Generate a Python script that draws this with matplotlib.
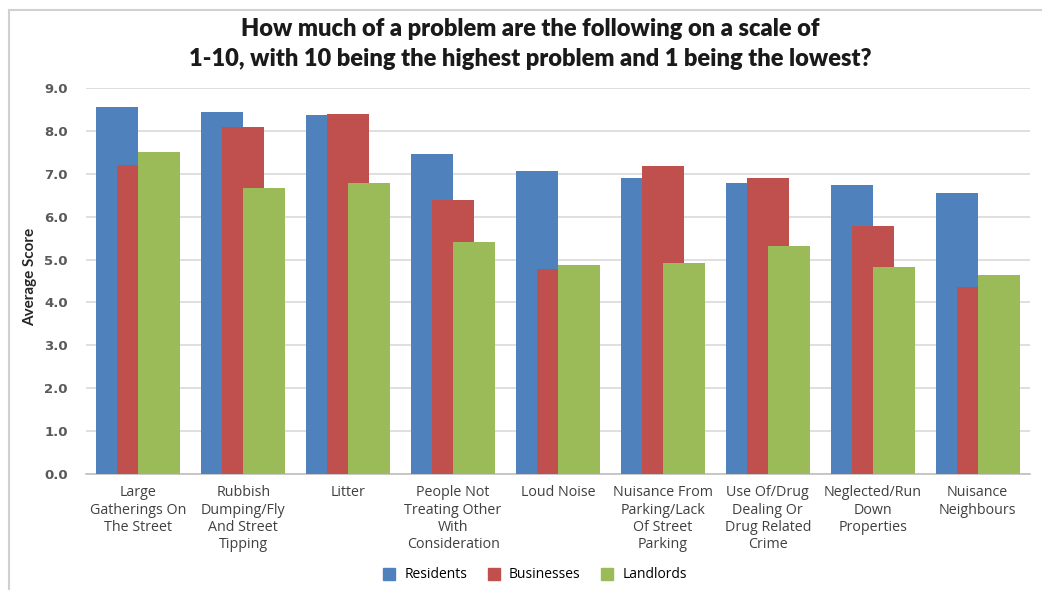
import matplotlib
matplotlib.use("Agg")
import matplotlib.pyplot as plt
import numpy as np
from matplotlib.lines import Line2D

categories = [
    "Large\nGatherings On\nThe Street",
    "Rubbish\nDumping/Fly\nAnd Street\nTipping",
    "Litter",
    "People Not\nTreating Other\nWith\nConsideration",
    "Loud Noise",
    "Nuisance From\nParking/Lack\nOf Street\nParking",
    "Use Of/Drug\nDealing Or\nDrug Related\nCrime",
    "Neglected/Run\nDown\nProperties",
    "Nuisance\nNeighbours",
]
residents = [8.55, 8.44, 8.38, 7.47, 7.07, 6.91, 6.79, 6.73, 6.55]
businesses = [7.20, 8.08, 8.40, 6.40, 4.77, 7.17, 6.90, 5.79, 4.36]
landlords = [7.50, 6.67, 6.79, 5.41, 4.87, 4.91, 5.32, 4.82, 4.64]
series_names = ["Residents", "Businesses", "Landlords"]
yticks = [0, 1, 2, 3, 4, 5, 6, 7, 8, 9]

colors = ["#4F81BD", "#C0504D", "#9BBB59"]
W, H = 1042, 590
fig = plt.figure(figsize=(W / 100, H / 100), dpi=100)
ax = fig.add_axes([86 / W, 1 - 474 / H, (1030 - 86) / W, (474 - 88) / H])

x = np.arange(len(categories))
offsets = [-0.2, 0.0, 0.2]
for i, (vals, c) in enumerate(zip([residents, businesses, landlords], colors)):
    ax.bar(x + offsets[i], vals, width=0.4, color=c, zorder=3 + i, linewidth=0)

ax.set_xlim(-0.5, len(categories) - 0.5)
ax.set_ylim(0, 9)
ax.set_yticks(yticks)
ax.set_yticklabels([f"{v:.1f}" for v in yticks], fontsize=9.5, fontweight="bold",
                   color="#595959", family="DejaVu Sans")
ax.yaxis.grid(True, color="#D9D9D9", linewidth=1.2, zorder=0)
ax.set_axisbelow(True)
for s in ["left", "right", "top"]:
    ax.spines[s].set_visible(False)
ax.spines["bottom"].set_color("#BFBFBF")
ax.spines["bottom"].set_linewidth(1.2)
ax.tick_params(axis="y", length=0, pad=13)
ax.tick_params(axis="x", length=0, pad=8)
ax.set_xticks(x)
ax.set_xticklabels(categories, fontsize=10.3, color="#404040", family="Open Sans",
                   linespacing=1.22)

fig.text(30 / W, 1 - 277 / H, "Average Score", rotation=90, ha="center", va="center",
         fontsize=11, fontweight="bold", family=["Lato", "DejaVu Sans"],
         color="#262626")

fig.text(530 / W, 1 - 44 / H,
         "How much of a problem are the following on a scale of\n1-10, with 10 being the highest problem and 1 being the lowest?",
         ha="center", va="center", fontsize=17, fontweight="heavy",
         family=["Lato", "DejaVu Sans"], color="#1a1a1a", linespacing=1.4)

handles = [Line2D([], [], marker="s", linestyle="none", markersize=8, color=c) for c in colors]
fig.legend(handles, series_names, loc="center", bbox_to_anchor=(531 / W, 1 - 575 / H),
           ncol=3, frameon=False, handletextpad=0.1, columnspacing=0.9,
           prop={"family": "Open Sans", "size": 10})

# chart border
fig.add_artist(Line2D([9 / W, 9 / W], [0, 1 - 10 / H], transform=fig.transFigure,
                      color="#D0D0D0", linewidth=1.5))
fig.add_artist(Line2D([9 / W, 1], [1 - 10 / H, 1 - 10 / H], transform=fig.transFigure,
                      color="#D0D0D0", linewidth=1.5))

fig.savefig("out.png", dpi=100, facecolor="white")
